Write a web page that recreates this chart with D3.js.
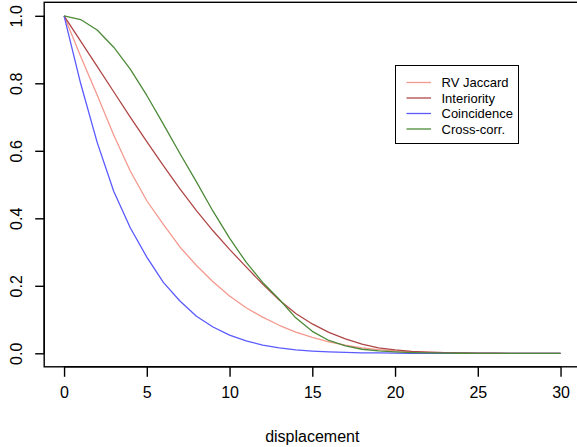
<!DOCTYPE html>
<html>
<head>
<meta charset="utf-8">
<script src="https://cdn.jsdelivr.net/npm/d3@7"></script>
<style>
  html, body { margin: 0; padding: 0; background: #fff; }
  svg { display: block; font-family: "Liberation Sans", Arial, Helvetica, sans-serif; }
</style>
</head>
<body>
<svg id="chart" width="577" height="447"></svg>
<script>
// Similarity measures as a function of displacement
const displacement = d3.range(0, 31);

const rvJaccard = [1, 0.88, 0.765, 0.647, 0.54, 0.452, 0.382, 0.315, 0.26, 0.212, 0.17,
  0.135, 0.107, 0.083, 0.063, 0.047, 0.034, 0.024, 0.016, 0.011, 0.007,
  0.0045, 0.0028, 0.0017, 0.001, 0.0005, 0.0002, 0, 0, 0, 0];

const interiority = [1, 0.925, 0.85, 0.775, 0.7, 0.627, 0.556, 0.487, 0.423, 0.363, 0.308,
  0.256, 0.205, 0.158, 0.118, 0.087, 0.062, 0.043, 0.027, 0.016, 0.01,
  0.006, 0.0035, 0.002, 0.001, 0.0005, 0.0002, 0, 0, 0, 0];

const coincidence = [1, 0.8, 0.625, 0.48, 0.372, 0.285, 0.21, 0.155, 0.11, 0.078, 0.054,
  0.037, 0.024, 0.016, 0.01, 0.0065, 0.004, 0.0025, 0.0015, 0.001, 0.0005,
  0.0002, 0, 0, 0, 0, 0, 0, 0, 0, 0];

const crossCorr = [1, 0.989, 0.958, 0.907, 0.842, 0.764, 0.679, 0.592, 0.508, 0.421, 0.341,
  0.27, 0.21, 0.16, 0.105, 0.065, 0.038, 0.022, 0.012, 0.007, 0.004,
  0.002, 0.001, 0.0005, 0.0002, 0, 0, 0, 0, 0, 0];

const seriesNames = ["RV Jaccard", "Interiority", "Coincidence", "Cross-corr."];
const seriesValues = [rvJaccard, interiority, coincidence, crossCorr];
const seriesColors = ["#f4998f", "#b04747", "#5a5aff", "#4c8a38"];

const xTicks = [0, 5, 10, 15, 20, 25, 30];
const yTicks = [0, 0.2, 0.4, 0.6, 0.8, 1.0];
const xLabel = "displacement";

const svg = d3.select("#chart");

// R-style 4% padding around the data range
const x = d3.scaleLinear().domain([-1.2, 31.2]).range([44.2, 580.4]);
const y = d3.scaleLinear().domain([-0.04, 1.04]).range([366.8, 2.3]);

// Plot frame
svg.append("rect")
  .attr("x", x(-1.2)).attr("y", y(1.04))
  .attr("width", x(31.2) - x(-1.2)).attr("height", y(-0.04) - y(1.04))
  .attr("fill", "none").attr("stroke", "#000").attr("stroke-width", 1.4);

// Bottom axis
const xAxis = svg.append("g")
  .attr("transform", `translate(0,${y(-0.04)})`)
  .call(d3.axisBottom(x).tickValues(xTicks).tickFormat(d3.format("d")).tickSize(10).tickPadding(10));
xAxis.select(".domain").attr("d", `M${x(0)},0H${x(30)}`).attr("stroke-width", 1.4);
xAxis.selectAll(".tick line").attr("stroke-width", 1.4);
xAxis.selectAll("text").attr("font-size", 16).attr("font-family", "Liberation Sans, Arial, sans-serif").attr("fill", "#000");

// Left axis with rotated labels
const yAxis = svg.append("g")
  .attr("transform", `translate(${x(-1.2)},0)`)
  .call(d3.axisLeft(y).tickValues(yTicks).tickFormat(d3.format(".1f")).tickSize(9));
yAxis.select(".domain").attr("d", `M0,${y(0)}V${y(1)}`).attr("stroke-width", 1.4);
yAxis.selectAll(".tick line").attr("stroke-width", 1.4);
yAxis.selectAll(".tick text")
  .attr("x", null).attr("dy", null)
  .attr("text-anchor", "middle")
  .attr("transform", "translate(-22,0) rotate(-90)")
  .attr("font-size", 16).attr("font-family", "Liberation Sans, Arial, sans-serif").attr("fill", "#000");

// Axis title
svg.append("text")
  .attr("x", (x(-1.2) + x(31.2)) / 2).attr("y", 442)
  .attr("text-anchor", "middle").attr("font-size", 16).attr("fill", "#000")
  .text(xLabel);

// Series lines
const line = d3.line().x((d, i) => x(displacement[i])).y(d => y(d));
svg.append("clipPath").attr("id", "plotclip").append("rect")
  .attr("x", x(-1.2)).attr("y", y(1.04))
  .attr("width", x(31.2) - x(-1.2)).attr("height", y(-0.04) - y(1.04));

svg.append("g").attr("clip-path", "url(#plotclip)")
  .selectAll("path")
  .data(seriesValues)
  .join("path")
  .attr("d", d => line(d))
  .attr("fill", "none")
  .attr("stroke", (d, i) => seriesColors[i])
  .attr("stroke-width", 1.3)
  .attr("stroke-linejoin", "round");

// Legend
const legend = svg.append("g");
legend.append("rect")
  .attr("x", 395.5).attr("y", 65.5).attr("width", 123).attr("height", 78)
  .attr("fill", "#fff").attr("stroke", "#000").attr("stroke-width", 1);
const rows = legend.selectAll("g.row")
  .data(seriesNames)
  .join("g").attr("class", "row")
  .attr("transform", (d, i) => `translate(0,${82.5 + i * 15.5})`);
rows.append("line")
  .attr("x1", 406.5).attr("x2", 431)
  .attr("stroke", (d, i) => seriesColors[i]).attr("stroke-width", 1.3);
rows.append("text")
  .attr("x", 441.5).attr("dy", "0.35em")
  .attr("font-size", 13).attr("fill", "#000")
  .text(d => d);
</script>
</body>
</html>
